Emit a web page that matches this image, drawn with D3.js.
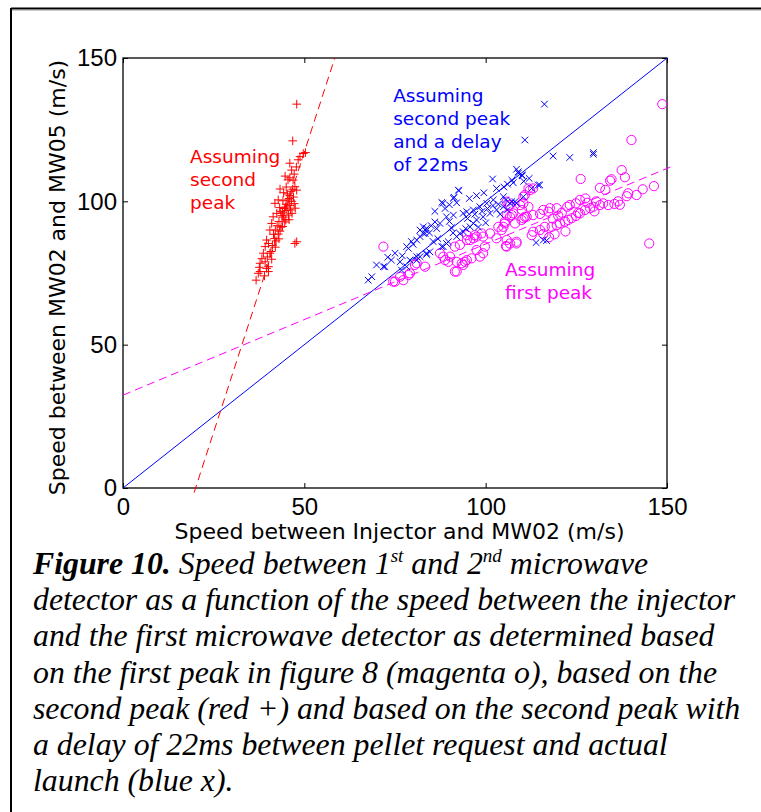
<!DOCTYPE html>
<html>
<head>
<meta charset="utf-8">
<script src="https://cdn.jsdelivr.net/npm/d3@7"></script>
<style>
  body { margin: 0; background: #fff; }
  svg { display: block; }
</style>
</head>
<body>
<script>
// values (m/s)
const secondPeak = [
  [47.9,133.9],[46.8,121.1],[48.8,115.6],[49.7,116.7],[50.3,117.0],[46.5,110.9],[46.0,108.2],[46.9,107.4],
  [43.3,104.3],[47.4,105.1],[47.9,103.9],[41.9,99.3],[42.8,100.5],[47.9,85.9],[47.4,85.3],[41.4,94.6],
  [41.0,92.3],[40.5,90.0],[39.6,86.5],[39.2,84.2],[40.1,85.3],[38.7,81.9],[40.5,81.9],[37.8,78.4],
  [39.2,78.9],[40.1,77.2],[36.7,72.5],[37.3,74.9],[37.8,75.5],[40.1,75.5],[39.6,76.6],
  [44.0,96.0],[44.5,97.5],[45.0,99.0],[45.5,100.5],[46.0,102.0],[46.3,103.5],[45.8,101.0],[44.8,98.0],
  [43.8,95.0],[43.0,93.0],[42.5,91.5],[42.0,90.0],[41.5,88.5],[43.5,96.5],[44.2,94.5],[45.2,96.8],
  [46.0,98.5],[46.5,100.0],[47.0,101.5],[45.6,95.2],[44.6,92.8],[43.6,91.0],[42.8,88.6],[41.8,87.0],
  [44.9,93.5],[46.2,97.0],[47.2,99.2],[43.2,97.8],[42.4,95.8],[45.3,102.6],[44.1,100.2],[46.8,104.2],
  [45.0,105.0],[44.3,103.0],[42.2,86.2],[41.2,84.6],[43.3,89.6],[40.8,82.5],[39.8,80.6],[41.0,79.8],
  [38.3,80.0],[39.0,74.0],[37.6,77.0],[45.8,93.6],[46.6,95.8],[47.5,97.6],[44.0,91.2],[43.0,86.9],
  [42.0,84.0],[45.5,107.5],[44.7,108.8],[47.2,109.5],[47.8,112.0],[46.0,113.3],[48.3,114.5]
];

const delayed22 = [
  [116.2,133.9],[110.8,121.4],[118.6,115.8],[123.2,115.3],[129.7,117.0],[129.7,116.4],
  [115.9,86.5],[113.9,85.6],[116.8,86.3],
  [101.9,107.8],[108.5,111.2],[109.0,109.8],[110.1,108.9],[114.9,105.7],[112.7,104.5],[107.2,107.4],[107.6,106.5],
  [92.6,103.7],[91.3,101.4],[87.9,99.6],[88.2,99.3],
  [72.2,77.2],[67.6,72.5],[68.6,73.7],[69.9,77.8],[71.8,77.2],
  [75.0,81.9],[76.4,78.9],[78.2,84.2],[78.7,83.6],
  [81.0,86.5],[81.9,87.7],[82.8,88.8],[83.3,90.0],[83.7,90.6],
  [91.1,101.1],[92.5,103.9],
  [87.4,92.3],[89.2,94.6],[91.1,95.2],[93.8,95.8],[94.8,96.4],[96.6,97.0],[98.4,98.1],[100.3,99.3],
  [102.1,100.5],[104.9,101.6],[109.0,110.3],[110.0,109.2],[114.5,105.7],
  [76.8,76.0],[78.2,77.2],[79.1,79.5],[81.0,80.7],[83.7,81.9],[84.6,82.4],
  [88.3,84.2],[89.2,85.3],[92.0,87.7],[92.9,88.8],[93.8,89.4],[95.7,91.1],[96.6,92.3],[97.5,93.5],
  [99.3,94.6],[101.2,95.8],[103.0,97.0],[104.9,98.1],[106.7,99.3],[108.1,99.9],
  [107.2,99.9],[108.5,99.3],[110.4,101.6],
  [87.9,84.2],[89.7,85.9],[83.3,88.8],[81.9,90.0],[82.8,91.1],[81.0,79.5],[81.9,80.7],[83.7,81.5],
  [85.0,91.5],[86.0,92.8],[86.5,90.5],[84.5,89.0],[90.0,93.0],[95.0,94.0],[97.0,95.5],[99.0,96.5],
  [100.5,97.5],[102.0,98.5],[103.5,99.0],[105.5,100.5],[106.0,97.0],[104.0,95.5],[100.0,92.5],[98.0,91.0],
  [94.5,90.5],[91.0,89.0],[90.5,90.8],[86.8,87.0],[85.5,86.0],[79.5,86.0],[80.0,85.0],[77.0,81.0],
  [74.0,79.5],[73.0,80.5],[86.0,96.5],[88.8,97.5],[90.0,98.8],[92.0,99.5],[95.5,101.0],[97.5,102.0],
  [99.5,103.0],[103.0,104.5],[105.0,105.0],[106.0,106.0],[110.5,107.0],[112.0,108.0]
];

const firstPeak = [
  [148.7,133.9],[140.2,121.4],[126.2,107.8],[131.5,104.7],[134.3,107.2],[134.7,107.7],[137.5,110.9],[138.4,108.4],
  [146.4,105.3],[143.3,104.2],[141.6,102.2],[138.9,101.8],[139.3,102.8],[145.1,85.3],
  [135.5,99.1],[133.8,98.7],[132.4,99.3],[131.5,98.7],[129.7,98.1],[128.8,97.6],[127.4,97.0],[126.0,95.8],
  [124.9,94.9],[123.7,94.1],[122.8,93.5],[121.9,92.9],[120.5,92.3],[119.6,91.7],[118.2,91.1],
  [126.0,100.5],[124.9,99.3],[123.2,98.7],[122.5,98.1],[119.6,97.6],[117.7,97.6],[117.3,96.4],[115.9,97.0],
  [115.0,95.6],[113.1,95.2],[111.3,94.6],[110.4,94.1],
  [116.3,91.1],[115.0,90.0],[113.1,89.4],[112.7,88.2],[115.9,88.6],[108.5,85.9],[105.6,84.4],
  [106.7,94.6],[105.3,92.3],[104.9,91.1],[108.1,92.3],[107.2,95.2],
  [110.4,99.3],[111.8,98.1],[109.9,93.5],[110.8,94.6],[112.2,103.9],[113.1,104.5],
  [110.8,102.2],[105.8,99.9],[106.7,98.7],[109.5,98.7],[110.0,97.0],[107.6,95.8],[103.5,91.1],[104.4,90.0],
  [105.8,86.5],[106.7,85.3],[108.5,85.3],
  [101.2,88.8],[99.3,87.7],[97.5,87.7],[96.6,87.1],[95.7,86.5],[94.8,86.5],[92.9,84.8],[91.5,84.2],
  [99.3,81.9],[98.4,80.7],[96.1,80.1],[94.3,78.9],[93.4,78.4],[91.5,75.5],[89.7,78.9],[88.3,80.7],
  [71.8,84.2],[76.4,73.7],[75.0,72.0],[77.3,72.5],[78.7,74.3],[80.5,77.8],[83.3,77.2],
  [87.4,81.9],[88.8,79.5],[90.2,80.7],[92.0,78.9],[93.8,77.8],[94.8,79.5],[97.5,83.0],[99.8,84.2],[92.0,75.5],
  [94.8,88.2],[97.0,88.2],[98.9,88.8],[103.0,87.1],[105.3,92.9],[105.8,95.2],[105.8,84.2],
  [111.8,104.5],[110.4,101.6],[106.3,98.7],
  [74.5,72.0],[79.1,74.9],[81.0,78.4],
  [128.0,99.5],[130.5,100.0],[136.5,100.0],[137.0,98.8],[130.0,96.5],[125.5,96.0],[120.0,95.0],[118.5,94.0],
  [121.0,96.0],[133.0,104.0],[127.5,101.0],[119.0,88.5],[117.5,87.5],[122.0,89.5]
];

// reference lines
const identityLine = [[0,0],[150,150]];
const secondPeakFit = [[19.6,-1.6],[58.4,150]];
const firstPeakFit = [[0,32.4],[151,112.0]];

const ticks = [0, 50, 100, 150];

const annotations = [
  {lines: ["Assuming", "second", "peak"], x: 18.5, y: 113.5, color: "#ff0000"},
  {lines: ["Assuming", "second peak", "and a delay", "of 22ms"], x: 74.5, y: 134.7, color: "#0000ff"},
  {lines: ["Assuming", "first peak"], x: 105.3, y: 74.0, color: "#ff00ff"}
];

const captionLines = [
  [["b","Figure 10."],["i"," Speed between 1"],["s","st"],["i"," and 2"],["s","nd"],["i"," microwave"]],
  [["i","detector as a function of the speed between the injector"]],
  [["i","and the first microwave detector as determined based"]],
  [["i","on the first peak in figure 8 (magenta o), based on the"]],
  [["i","second peak (red +) and based on the second peak with"]],
  [["i","a delay of 22ms between pellet request and actual"]],
  [["i","launch (blue x)."]]
];

const width = 761,
    height = 812;

const svg = d3.select('body').append('svg')
    .attr('width', width)
    .attr('height', height);

// page frame (top and left edges only)
svg.append("line").attr("x1", 11).attr("x2", width).attr("y1", 8.5).attr("y2", 8.5)
    .attr("stroke", "#000").attr("stroke-width", 2);
svg.append("line").attr("x1", 11).attr("x2", width).attr("y1", 10.5).attr("y2", 10.5)
    .attr("stroke", "#ccc").attr("stroke-width", 1);
svg.append("line").attr("x1", 11).attr("x2", 11).attr("y1", 8).attr("y2", height)
    .attr("stroke", "#000").attr("stroke-width", 2);

const plotL = 123, plotR = 667, plotT = 58, plotB = 488;

const x = d3.scaleLinear().domain([0, 150]).range([plotL, plotR]);
const y = d3.scaleLinear().domain([0, 150]).range([plotB, plotT]);

const tickFont = "'Liberation Sans', Arial, Helvetica, sans-serif";
const labelFont = "'DejaVu Sans', sans-serif";

// axes, ticks pointing inwards like matlab
const xAxis = svg.append("g").attr("transform", "translate(0," + plotB + ")")
    .call(d3.axisBottom(x).tickValues(ticks).tickSizeInner(-5).tickSizeOuter(0).tickPadding(10));
const yAxis = svg.append("g").attr("transform", "translate(" + plotL + ",0)")
    .call(d3.axisLeft(y).tickValues(ticks).tickSizeInner(-5).tickSizeOuter(0).tickPadding(6));
svg.append("g").attr("transform", "translate(0," + plotT + ")")
    .call(d3.axisTop(x).tickValues(ticks).tickSizeInner(-5).tickSizeOuter(0).tickFormat(""));
svg.append("g").attr("transform", "translate(" + plotR + ",0)")
    .call(d3.axisRight(y).tickValues(ticks).tickSizeInner(-5).tickSizeOuter(0).tickFormat(""));

svg.selectAll(".domain").remove();
svg.selectAll(".tick line").attr("stroke", "#000").attr("stroke-width", 1);
[xAxis, yAxis].forEach(function(a) {
  a.attr("font-family", tickFont).attr("font-size", 24);
  a.selectAll("text").attr("fill", "#000");
});

// axes box
svg.append("rect")
    .attr("x", plotL).attr("y", plotT)
    .attr("width", plotR - plotL).attr("height", plotB - plotT)
    .attr("fill", "none").attr("stroke", "#000").attr("stroke-width", 1.3);

// reference lines
const line = d3.line().x(function(d) { return x(d[0]); }).y(function(d) { return y(d[1]); });

svg.append("path").datum(identityLine).attr("d", line)
    .attr("fill", "none").attr("stroke", "#0000ff").attr("stroke-width", 1);
svg.append("path").datum(secondPeakFit).attr("d", line)
    .attr("fill", "none").attr("stroke", "#ff0000").attr("stroke-width", 1)
    .attr("stroke-dasharray", "8,5");
svg.append("path").datum(firstPeakFit).attr("d", line)
    .attr("fill", "none").attr("stroke", "#ff00ff").attr("stroke-width", 1)
    .attr("stroke-dasharray", "8,5");

// magenta circles
svg.append("g").selectAll("circle")
    .data(firstPeak)
    .enter().append("circle")
    .attr("cx", function(d) { return x(d[0]); })
    .attr("cy", function(d) { return y(d[1]); })
    .attr("r", 4.6)
    .attr("fill", "none")
    .attr("stroke", "#ff00ff")
    .attr("stroke-width", 1);

// blue crosses
svg.append("g").selectAll("path")
    .data(delayed22)
    .enter().append("path")
    .attr("d", function(d) {
      const cx = x(d[0]), cy = y(d[1]), s = 3.3;
      return "M" + (cx - s) + "," + (cy - s) + "L" + (cx + s) + "," + (cy + s) +
             "M" + (cx - s) + "," + (cy + s) + "L" + (cx + s) + "," + (cy - s);
    })
    .attr("stroke", "#0000ff")
    .attr("stroke-width", 1);

// red plus
svg.append("g").selectAll("path")
    .data(secondPeak)
    .enter().append("path")
    .attr("d", function(d) {
      const cx = x(d[0]), cy = y(d[1]), s = 4.3;
      return "M" + (cx - s) + "," + cy + "L" + (cx + s) + "," + cy +
             "M" + cx + "," + (cy - s) + "L" + cx + "," + (cy + s);
    })
    .attr("stroke", "#ff0000")
    .attr("stroke-width", 1);

// text annotations
annotations.forEach(function(a) {
  const t = svg.append("text")
      .attr("font-family", labelFont)
      .attr("font-size", 18.5)
      .attr("fill", a.color);
  a.lines.forEach(function(s, i) {
    t.append("tspan").attr("x", x(a.x)).attr("y", y(a.y) + i * 23.2).text(s);
  });
});

// axis titles
svg.append("text")
    .attr("x", (plotL + plotR) / 2 + 4.5)
    .attr("y", 539)
    .attr("text-anchor", "middle")
    .attr("font-family", labelFont)
    .attr("font-size", 22)
    .text("Speed between Injector and MW02 (m/s)");

svg.append("text")
    .attr("transform", "translate(65," + 277.5 + ") rotate(-90)")
    .attr("text-anchor", "middle")
    .attr("font-family", labelFont)
    .attr("font-size", 22)
    .text("Speed between MW02 and MW05 (m/s)");

// figure caption
const cap = svg.append("text")
    .attr("font-family", "'Liberation Serif', 'Times New Roman', serif")
    .attr("font-size", 31.8)
    .attr("font-style", "italic")
    .attr("fill", "#000");

captionLines.forEach(function(parts, i) {
  const base = 574 + i * 36.2;
  parts.forEach(function(p, j) {
    const ts = cap.append("tspan").text(p[1]);
    if (j === 0) ts.attr("x", 33);
    if (p[0] === "b") ts.attr("font-weight", "bold");
    if (p[0] === "s") ts.attr("font-size", 19).attr("y", base - 12);
    else ts.attr("y", base);
  });
});
</script>
</body>
</html>
